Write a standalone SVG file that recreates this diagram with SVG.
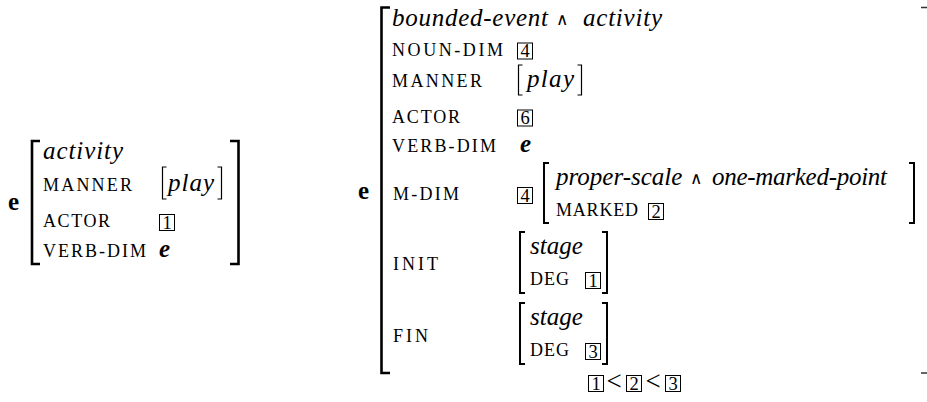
<svg xmlns="http://www.w3.org/2000/svg" width="927" height="402" viewBox="0 0 927 402">
<style>
text{font-family:"Liberation Serif","Times New Roman","DejaVu Serif",serif;fill:#000}
.it{font-style:italic;font-size:25px}
.sc{font-size:18px}
.b{font-weight:bold;font-size:25px}
.bi{font-weight:bold;font-style:italic;font-size:25px}
.num{font-size:18.5px;text-anchor:middle}
.and{font-family:"DejaVu Sans",sans-serif;font-size:17px}
.lt{font-size:27px}
.box{fill:none;stroke:#000;stroke-width:1}
.br{fill:none;stroke:#000;stroke-width:2.6}
.brm{fill:none;stroke:#000;stroke-width:2}
.brs{fill:none;stroke:#000;stroke-width:1.2}
.tick{fill:none;stroke:#333;stroke-width:1.6}
</style>
<rect width="927" height="402" fill="#fff"/>
<g id="avm-left">
  <text class="b" x="8" y="210">e</text>
  <path class="br" d="M40,141 H32 V264 H40"/>
  <path class="br" d="M230,141 H238.5 V264 H230"/>
  <text class="it" x="43" y="159" textLength="80" lengthAdjust="spacing">activity</text>
  <text class="sc" x="43" y="191" textLength="89" lengthAdjust="spacing">MANNER</text>
  <path class="brs" d="M166.5,167 H162.5 V199 H166.5"/>
  <text class="it" x="168" y="191" textLength="46" lengthAdjust="spacing">play</text>
  <path class="brs" d="M217.5,167 H221.5 V199 H217.5"/>
  <text class="sc" x="43" y="227" textLength="67" lengthAdjust="spacing">ACTOR</text>
  <rect class="box" x="159.5" y="214.5" width="15" height="16"/>
  <text class="num" x="167" y="228.5">1</text>
  <text class="sc" x="43" y="257" textLength="103" lengthAdjust="spacing">VERB-DIM</text>
  <text class="bi" x="159" y="257">e</text>
</g>
<g id="avm-right">
  <text class="b" x="358" y="199">e</text>
  <path class="br" d="M390,7.5 H381.5 V373 H390"/>
  <path class="tick" d="M921,7.5 H929.5 V373 H921"/>
  <text class="it" x="392" y="26" textLength="156" lengthAdjust="spacing">bounded-event</text>
  <text class="and" x="556" y="25">∧</text>
  <text class="it" x="583" y="26" textLength="79" lengthAdjust="spacing">activity</text>
  <text class="sc" x="392" y="56" textLength="111" lengthAdjust="spacing">NOUN-DIM</text>
  <rect class="box" x="517.5" y="43" width="15" height="16"/>
  <text class="num" x="525" y="57">4</text>
  <text class="sc" x="392" y="87" textLength="90" lengthAdjust="spacing">MANNER</text>
  <path class="brs" d="M522.5,65 H518.5 V95 H522.5"/>
  <text class="it" x="527" y="87" textLength="47" lengthAdjust="spacing">play</text>
  <path class="brs" d="M577.5,65 H581.5 V95 H577.5"/>
  <text class="sc" x="392" y="123" textLength="68" lengthAdjust="spacing">ACTOR</text>
  <rect class="box" x="517.5" y="110" width="15" height="16"/>
  <text class="num" x="525" y="124">6</text>
  <text class="sc" x="392" y="152" textLength="104" lengthAdjust="spacing">VERB-DIM</text>
  <text class="bi" x="520" y="152">e</text>

  <text class="sc" x="393" y="200" textLength="66" lengthAdjust="spacing">M-DIM</text>
  <rect class="box" x="517.5" y="187.5" width="15" height="16"/>
  <text class="num" x="525" y="201.5">4</text>
  <path class="brm" d="M549,163 H544 V223 H549"/>
  <path class="brm" d="M909,163 H914 V223 H909"/>
  <text class="it" x="556" y="185">proper-scale</text>
  <text class="and" x="690" y="184">∧</text>
  <text class="it" x="712" y="185" textLength="175" lengthAdjust="spacing">one-marked-point</text>
  <text class="sc" x="556" y="216" textLength="82" lengthAdjust="spacing">MARKED</text>
  <rect class="box" x="648.5" y="203.5" width="15" height="16"/>
  <text class="num" x="656" y="217.5">2</text>

  <text class="sc" x="393" y="270" textLength="45" lengthAdjust="spacing">INIT</text>
  <path class="brm" d="M525,232 H520 V293 H525"/>
  <path class="brm" d="M602,232 H607 V293 H602"/>
  <text class="it" x="530" y="254">stage</text>
  <text class="sc" x="530" y="285" textLength="39" lengthAdjust="spacing">DEG</text>
  <rect class="box" x="585.5" y="272.5" width="15" height="16"/>
  <text class="num" x="593" y="286.5">1</text>

  <text class="sc" x="393" y="341.5" textLength="35" lengthAdjust="spacing">FIN</text>
  <path class="brm" d="M525,303 H520 V364 H525"/>
  <path class="brm" d="M602,303 H607 V364 H602"/>
  <text class="it" x="530" y="325">stage</text>
  <text class="sc" x="530" y="356" textLength="39" lengthAdjust="spacing">DEG</text>
  <rect class="box" x="585.5" y="343.5" width="15" height="16"/>
  <text class="num" x="593" y="357.5">3</text>

  <rect class="box" x="588.5" y="375.5" width="15" height="16"/>
  <text class="num" x="596" y="389.5">1</text>
  <text class="lt" x="606.5" y="389.5">&lt;</text>
  <rect class="box" x="626.5" y="375.5" width="15" height="16"/>
  <text class="num" x="634" y="389.5">2</text>
  <text class="lt" x="645.5" y="389.5">&lt;</text>
  <rect class="box" x="665.5" y="375.5" width="15" height="16"/>
  <text class="num" x="673" y="389.5">3</text>
</g>
</svg>
